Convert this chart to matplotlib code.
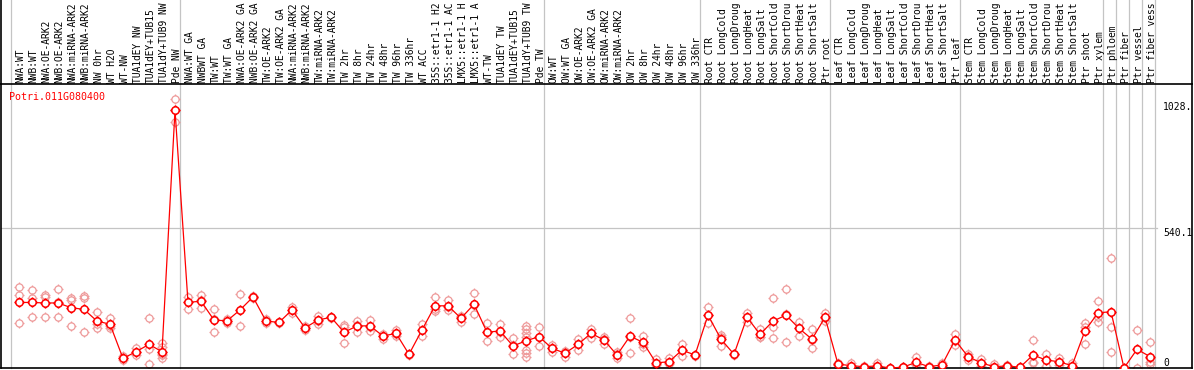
import numpy as np
import matplotlib.pyplot as plt
from matplotlib.path import Path
from matplotlib.lines import Line2D
import matplotlib.transforms as mtransforms

gene = 'Potri.011G080400'

# sample names as printed (the source cuts them at 14 characters)
samples = [
    'NWA:WT', 'NWB:WT', 'NWA:OE-ARK2', 'NWB:OE-ARK2', 'NWA:miRNA-ARK2',
    'NWB:miRNA-ARK2', 'NW 0hr', 'WT H2O', 'WT-NW', 'TUA1dEY NW',
    'TUA1dEY+TUB15', 'TUA1dY+TUB9 NW', 'Pde NW',
    'NWA:WT GA', 'NWBWT GA', 'TW:WT', 'TW:WT GA', 'NWA:OE-ARK2 GA',
    'NWB:OE-ARK2 GA', 'TW:OE-ARK2', 'TW:OE-ARK2 GA', 'NWA:miRNA-ARK2',
    'NWB:miRNA-ARK2', 'TW:miRNA-ARK2', 'TW:miRNA-ARK2', 'TW 2hr', 'TW 8hr',
    'TW 24hr', 'TW 48hr', 'TW 96hr', 'TW 336hr', 'WT ACC',
    '35S::etr1-1 H2', '35S::etr1-1 AC', 'LMX5::etr1-1 H', 'LMX5::etr1-1 A',
    'WT-TW', 'TUA1dEY TW', 'TUA1dEY+TUB15', 'TUA1dY+TUB9 TW', 'Pde TW',
    'OW:WT', 'OW:WT GA', 'OW:OE-ARK2', 'OW:OE-ARK2 GA', 'OW:miRNA-ARK2',
    'OW:miRNA-ARK2', 'OW 2hr', 'OW 8hr', 'OW 24hr', 'OW 48hr', 'OW 96hr',
    'OW 336hr',
    'Root CTR', 'Root LongCold', 'Root LongDroug', 'Root LongHeat',
    'Root LongSalt', 'Root ShortCold', 'Root ShortDrou', 'Root ShortHeat',
    'Root ShortSalt', 'Ptr root',
    'Leaf CTR', 'Leaf LongCold', 'Leaf LongDroug', 'Leaf LongHeat',
    'Leaf LongSalt', 'Leaf ShortCold', 'Leaf ShortDrou', 'Leaf ShortHeat',
    'Leaf ShortSalt', 'Ptr leaf',
    'Stem CTR', 'Stem LongCold', 'Stem LongDroug', 'Stem LongHeat',
    'Stem LongSalt', 'Stem ShortCold', 'Stem ShortDrou', 'Stem ShortHeat',
    'Stem ShortSalt', 'Ptr shoot', 'Ptr xylem',
    'Ptr phloem', 'Ptr fiber', 'Ptr vessel', 'Ptr fiber vess',
]

means = [
    253, 253, 251, 251, 233, 226, 181, 169, 37, 63, 91, 63, 995,
    253, 258, 185, 182, 224, 274, 181, 176, 224, 155, 185, 196, 138, 162,
    163, 123, 134, 53, 147, 240, 240, 192, 246, 138, 143, 85, 105, 121,
    76, 57, 91, 134, 108, 50, 123, 99, 20, 24, 69, 50,
    204, 111, 53, 196, 130, 181, 204, 153, 111, 196,
    15, 9, 5, 8, 0, 3, 22, 5, 12, 108,
    44, 20, 5, 8, 3, 50, 31, 24, 9, 144, 213,
    217, 0, 72, 44,
]

reps = [
    [311, 282, 172], [301, 269, 196], [282, 273, 198], [304, 196, 253],
    [269, 262, 163], [278, 269, 138], [215, 169, 155], [192, 153, 162],
    [37, 45, 30], [78, 50, 60], [192, 72, 14], [95, 82, 37, 60, 50, 55],
    [1040, 950, 995],
    [275, 229, 255], [282, 231, 261], [226, 140, 189], [175, 188, 183],
    [284, 163, 225], [278, 270, 274], [188, 172, 183], [176, 174, 178],
    [237, 211, 224], [147, 162, 156], [202, 170, 183], [196, 194, 198],
    [166, 157, 95], [182, 138, 166], [185, 160, 144], [131, 113, 125],
    [147, 125, 130], [53, 51, 55], [170, 123, 148], [273, 221, 226],
    [262, 224, 234], [200, 179, 197], [288, 207, 243], [172, 104, 138],
    [170, 121, 138], [115, 53, 87], [162, 150, 137, 118, 69, 57, 44],
    [157, 85, 121],
    [89, 63, 76], [67, 44, 60], [112, 69, 92], [150, 115, 137],
    [121, 93, 110], [60, 37, 53], [192, 57, 120], [123, 82, 92],
    [34, 12, 14], [37, 18, 17], [91, 47, 69], [50, 48, 52],
    [234, 172, 206], [127, 85, 121], [55, 50, 54], [213, 179, 196],
    [149, 121, 120], [269, 159, 115], [304, 99, 209], [179, 125, 155],
    [149, 76, 108], [213, 182, 193],
    [20, 12, 13], [20, 4, 3], [5, 3, 7], [20, 2, 2], [0, 1, 0],
    [3, 2, 4], [41, 10, 15], [5, 4, 6], [20, 8, 8], [131, 89, 104],
    [54, 31, 47], [34, 8, 18], [14, 1, 0], [8, 6, 10], [3, 2, 4],
    [108, 24, 18], [54, 9, 30], [37, 13, 22], [18, 4, 5], [175, 160, 91],
    [258, 196, 179],
    [423, 157, 61], [0, 0, 0], [147, 0], [99, 37, 24, 15],
]

group_sizes = [13, 28, 12, 10, 10, 11, 1, 1, 1, 1]
ytick_values = [0, 540.1, 1028]
ytick_labels = ['0', '540.1', '1028.']

red = '#ff0000'
pink = '#ee9a9a'
grid = '#c4c4c4'
mono = 'DejaVu Sans Mono'

# circle with four small ticks, like the original web plot
circ = Path.unit_circle()
circ = Path(circ.vertices * 0.36, circ.codes)
ticks = Path([(0, 0.36), (0, 0.5), (0, -0.36), (0, -0.5),
              (0.36, 0), (0.5, 0), (-0.36, 0), (-0.5, 0)],
             [Path.MOVETO, Path.LINETO] * 4)
marker = Path.make_compound_path(circ, ticks)

fig = plt.figure(figsize=(11.94, 3.70), dpi=100)
ax = fig.add_axes([1 / 1194, 2 / 370, 1191 / 1194, 284 / 370])
n = len(samples)
x = np.arange(n)

ax.set_xlim(-1.385, 90.23)
ax.set_ylim(0, 1096)
ax.set_xticks([])
ax.set_yticks([])
for s in ax.spines.values():
    s.set_color('black')
    s.set_linewidth(1.2)

# group separators, running up through the label strip
bounds = np.concatenate([[0], np.cumsum(group_sizes)]) - 1 + 0.35
for b in bounds:
    ax.axvline(b, ymin=0, ymax=1.5, color=grid, lw=0.9, zorder=1, clip_on=False)
xend = (n - 0.5 - ax.get_xlim()[0]) / (ax.get_xlim()[1] - ax.get_xlim()[0])
ax.axhline(ytick_values[1], xmin=0, xmax=xend, color=grid, lw=0.9, zorder=1)

# outer frame above the plot area
for xf in (0, 1):
    ax.add_line(Line2D([xf, xf], [1, 1.5], transform=ax.transAxes,
                       color='black', lw=1.2, clip_on=False))

# replicates
rep_x = [i for i, r in enumerate(reps) for _ in r]
rep_y = [v for r in reps for v in r]
ax.plot(rep_x, rep_y, ls='none', marker=marker, ms=7.2, mew=0.9,
        mec=pink, mfc='none', zorder=2)

# means
ax.plot(x, means, color=red, lw=0.9, zorder=3)
ax.plot(x, means, ls='none', marker=marker, ms=7.4, mew=1.1,
        mec=red, mfc='white', zorder=4)

# sample labels
trans = mtransforms.blended_transform_factory(ax.transData, ax.transAxes)
trans = mtransforms.offset_copy(trans, fig=fig, x=0, y=1, units='dots')
for i, s in enumerate(samples):
    ax.text(i + 0.12, 1, s, transform=trans, rotation=90, ha='center',
            va='bottom', fontsize=6.9, family=mono, clip_on=False)

# value labels on the right
for v, lab in zip(ytick_values, ytick_labels):
    ax.text(n, v, lab, ha='left', va='bottom' if v == 0 else 'top',
            fontsize=7.0, family=mono, clip_on=False)

ax.text(0.0065, 0.955, gene, transform=ax.transAxes, color=red,
        fontsize=7.2, family=mono, va='center', ha='left')

fig.savefig('out.png', dpi=100)
